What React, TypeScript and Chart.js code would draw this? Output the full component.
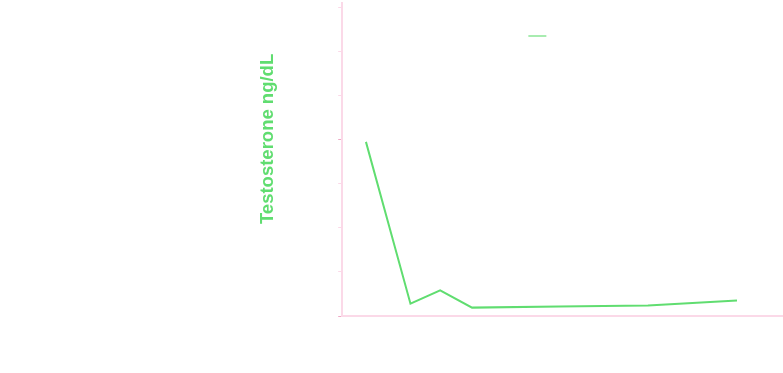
import React, { useEffect, useRef } from "react";
import { Chart, registerables } from "chart.js";

Chart.register(...registerables);

// ---- data ----
const weeks = [0, 6, 10, 14.3, 26, 38, 50];
const testosterone = [395, 28, 58, 19, 21.5, 24, 35];
const seriesLabel = "Patient";
const yAxisTitle = "Testosterone ng/dL";
const yTickValues = [0, 100, 200, 300, 400, 500, 600, 700];
const emphasisedTicks = [0, 400];

const GREEN = "rgb(96, 221, 112)";
const LEGEND_GREEN = "rgba(96, 221, 112, 0.55)";
const PINK = "#fbd9e8";
const PINK_DARK = "#eeaac6";

export default function App() {
  const ref = useRef<HTMLCanvasElement>(null);

  useEffect(() => {
    document.body.style.margin = "0";
    Chart.defaults.font.family = "'Liberation Sans', Arial, sans-serif";

    const overlayLegend = {
      id: "overlayLegend",
      afterDatasetsDraw(chart: any) {
        const { ctx, chartArea } = chart;
        const label = chart.data.datasets[0].label as string;
        ctx.save();
        ctx.font = "13px 'Liberation Sans', Arial, sans-serif";
        const tw = ctx.measureText(label).width;
        const boxW = 18;
        const gap = 10;
        const total = boxW + gap + tw;
        const x0 = (chartArea.left + chartArea.right) / 2 - total / 2;
        const y = chartArea.top + 33;
        ctx.strokeStyle = LEGEND_GREEN;
        ctx.lineWidth = 2;
        ctx.beginPath();
        ctx.moveTo(x0, y);
        ctx.lineTo(x0 + boxW, y);
        ctx.stroke();
        ctx.fillStyle = "#ffffff";
        ctx.textBaseline = "middle";
        ctx.fillText(label, x0 + boxW + gap, y);
        ctx.restore();
      },
    };

    const chart = new Chart(ref.current as HTMLCanvasElement, {
      type: "line",
      data: {
        datasets: [
          {
            label: seriesLabel,
            data: weeks.map((x, i) => ({ x, y: testosterone[i] })),
            borderColor: GREEN,
            backgroundColor: LEGEND_GREEN,
            borderWidth: 2,
            pointRadius: 0,
            tension: 0,
            fill: false,
          },
        ],
      },
      options: {
        animation: false,
        responsive: false,
        layout: { padding: { left: 0, top: 3, right: 0, bottom: 57 } },
        plugins: {
          legend: { display: false },
          tooltip: { enabled: false },
        },
        scales: {
          x: {
            type: "linear",
            min: -3.2,
            max: 56.2,
            ticks: { display: false },
            grid: { display: false, drawTicks: false },
            border: { display: true, color: PINK, width: 2 },
          },
          y: {
            type: "linear",
            min: 0,
            max: 710,
            ticks: { display: false, stepSize: 100 },
            afterBuildTicks: (axis: any) => {
              axis.ticks = yTickValues.map((v) => ({ value: v }));
            },
            grid: {
              display: true,
              drawOnChartArea: false,
              drawTicks: true,
              tickLength: 4,
              color: (ctx: any) =>
                ctx.tick && emphasisedTicks.includes(ctx.tick.value) ? PINK_DARK : PINK,
            },
            border: { display: true, color: PINK, width: 2 },
            title: {
              display: true,
              text: "        " + yAxisTitle,
              color: GREEN,
              font: { size: 18.5, weight: "bold" },
              padding: { top: 257, bottom: 59 },
            },
          },
        },
      },
      plugins: [overlayLegend],
    });

    return () => chart.destroy();
  }, []);

  return (
    <div style={{ position: "absolute", left: 0, top: 0, width: 783, height: 373 }}>
      <canvas ref={ref} width={783} height={373} style={{ display: "block" }} />
    </div>
  );
}
